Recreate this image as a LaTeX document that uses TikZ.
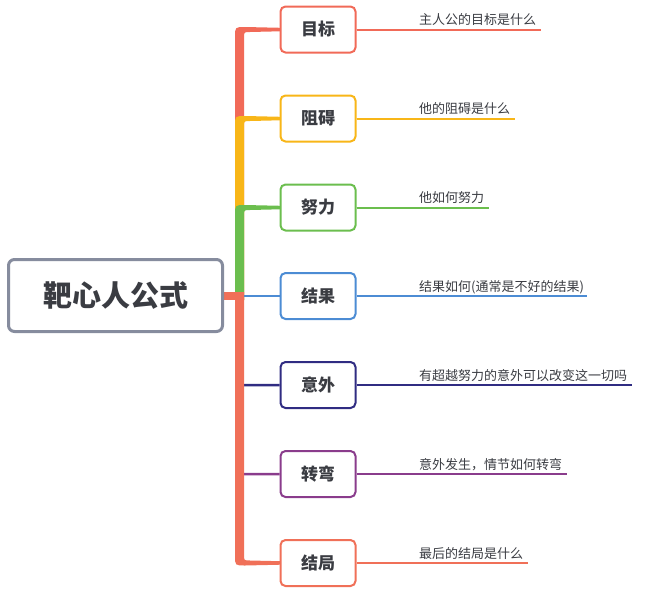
\documentclass[tikz,border=0pt]{standalone}
\usepackage{fontspec}
\setmainfont{Noto Sans CJK SC}
\usetikzlibrary{backgrounds}
\definecolor{cRed}{RGB}{241,106,88}
\definecolor{cYel}{RGB}{248,182,24}
\definecolor{cGrn}{RGB}{107,190,78}
\definecolor{cBlu}{RGB}{76,140,212}
\definecolor{cNav}{RGB}{48,44,130}
\definecolor{cPur}{RGB}{138,60,140}
\definecolor{cRed2}{RGB}{240,112,88}
\definecolor{cRoot}{RGB}{134,140,158}
\definecolor{cTxt}{RGB}{58,60,66}
\tikzset{
  rootbox/.style={draw=cRoot, line width=3pt, rounded corners=6pt, fill=white,
    minimum width=214pt, minimum height=72pt, inner sep=0pt, text=cTxt,
    font=\fontsize{29}{32}\selectfont\bfseries},
  topicbox/.style={draw=#1, line width=2pt, rounded corners=5pt, fill=white,
    minimum width=75pt, minimum height=46pt, inner sep=0pt, text=cTxt,
    font=\fontsize{17}{20}\selectfont\bfseries},
  leaftext/.style={anchor=base west, inner sep=0pt, text=cTxt,
    font=\fontsize{13}{15}\selectfont},
  leafline/.style={draw=#1, line width=2pt},
  thinbranch/.style={draw=#1, line width=2.5pt, rounded corners=4pt},
}
% upward thick branch: #1 colour, #2 centre y, #3 node
\newcommand\brUpper[3]{%
  \fill[#1] (235,300) -- (235,#2+7.5) .. controls (235,#2-2.5) .. (245,#2-2.5)
    -- (#3.east) -- (250,#2+2.5) .. controls (244,#2+2.5) .. (244,#2+8.5)
    -- (244,300) -- cycle;}
\begin{document}
\begin{tikzpicture}[x=1pt,y=-1pt]
\useasboundingbox (0,0) rectangle (654,600);
\node[rootbox] (root) at (115.5,295.5) {靶心人公式};
\node[topicbox=cRed] (c1) at (318,29.5) {目标};
\node[topicbox=cYel] (c2) at (318,118.5) {阻碍};
\node[topicbox=cGrn] (c3) at (318,207.5) {努力};
\node[topicbox=cBlu] (c4) at (318,296) {结果};
\node[topicbox=cNav] (c5) at (318,385) {意外};
\node[topicbox=cPur] (c6) at (318,474) {转弯};
\node[topicbox=cRed2] (c7) at (318,563) {结局};
% leaf texts
\node[leaftext] (t1) at (419,24.5) {主人公的目标是什么};
\node[leaftext] (t2) at (419,113.5) {他的阻碍是什么};
\node[leaftext] (t3) at (419,202.5) {他如何努力};
\node[leaftext] (t4) at (419,291) {结果如何(通常是不好的结果)};
\node[leaftext] (t5) at (419,380) {有超越努力的意外可以改变这一切吗};
\node[leaftext] (t6) at (419,469) {意外发生，情节如何转弯};
\node[leaftext] (t7) at (419,558) {最后的结局是什么};
\coordinate (e1) at (541,29.5);
\coordinate (e2) at (515,118.5);
\coordinate (e3) at (489,207.5);
\coordinate (e4) at (587,296);
\coordinate (e5) at (632,385);
\coordinate (e6) at (567,474);
\coordinate (e7) at (528,563);
\begin{pgfonlayer}{background}
\draw[leafline=cRed] (c1.east) -- (e1);
\draw[leafline=cYel] (c2.east) -- (e2);
\draw[leafline=cGrn] (c3.east) -- (e3);
\draw[leafline=cBlu] (c4.east) -- (e4);
\draw[leafline=cNav] (c5.east) -- (e5);
\draw[leafline=cPur] (c6.east) -- (e6);
\draw[leafline=cRed2] (c7.east) -- (e7);
\brUpper{cRed}{29.5}{c1}
\brUpper{cYel}{118.5}{c2}
\brUpper{cGrn}{207.5}{c3}
\draw[draw=cBlu, line width=2pt] (244,296) -- (c4.west);
\draw[thinbranch=cNav] (239.5,372) |- (c5.west);
\draw[thinbranch=cPur] (239.5,461) |- (c6.west);
\fill[cRed2] (235,292) -- (235,555.5) .. controls (235,565.5) .. (245,565.5)
  -- (c7.east) -- (250,560.5) .. controls (244,560.5) .. (244,554.5)
  -- (244,292) -- cycle;
\fill[cRed2] (root.east |- 0,292) rectangle (244,300);
\end{pgfonlayer}
\end{tikzpicture}
\end{document}
